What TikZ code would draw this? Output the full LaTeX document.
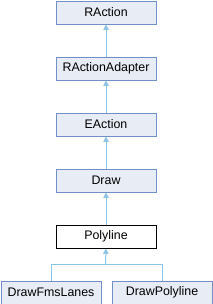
\documentclass[tikz,border=0pt]{standalone}
\usepackage{fontspec}
\setmainfont{Liberation Sans}
\usetikzlibrary{arrows.meta}
\definecolor{boxfill}{HTML}{E8ECF5}
\definecolor{boxline}{HTML}{7090C8}
\definecolor{edge}{HTML}{8CC4E6}
\tikzset{
  cls/.style={draw=boxline, fill=boxfill, line width=0.75pt, minimum width=75pt, minimum height=17.25pt, inner sep=0pt, font=\fontsize{9.3pt}{11pt}\selectfont, text=black, anchor=north west},
  cur/.style={cls, draw=black, fill=white},
  inh/.style={draw=edge, line width=0.75pt, -{Triangle[width=4pt,length=4pt]}},
  ln/.style={draw=edge, line width=0.75pt},
}
\begin{document}
\begin{tikzpicture}[x=0.75pt, y=-0.75pt]
\useasboundingbox (0,0) rectangle (212,304);
\node[cls] (ra) at (55.5,0.5) {RAction};
\node[cls] (raa) at (55.5,56.5) {RActionAdapter};
\node[cls] (ea) at (55.5,112.5) {EAction};
\node[cls] (dr) at (55.5,168.5) {Draw};
\node[cur] (pl) at (55.5,224.5) {Polyline};
\node[cls] (dfl) at (0.5,280.5) {DrawFmsLanes};
\node[cls] (dpl) at (111.5,280.5) {DrawPolyline};
\draw[inh] (raa.north) -- (ra.south);
\draw[inh] (ea.north) -- (raa.south);
\draw[inh] (dr.north) -- (ea.south);
\draw[inh] (pl.north) -- (dr.south);
\coordinate (j) at (105.5,264.5);
\draw[ln] (dfl.north) |- (j);
\draw[ln] (dpl.north) |- (j);
\draw[inh] (j) -- (pl.south);
\end{tikzpicture}
\end{document}
